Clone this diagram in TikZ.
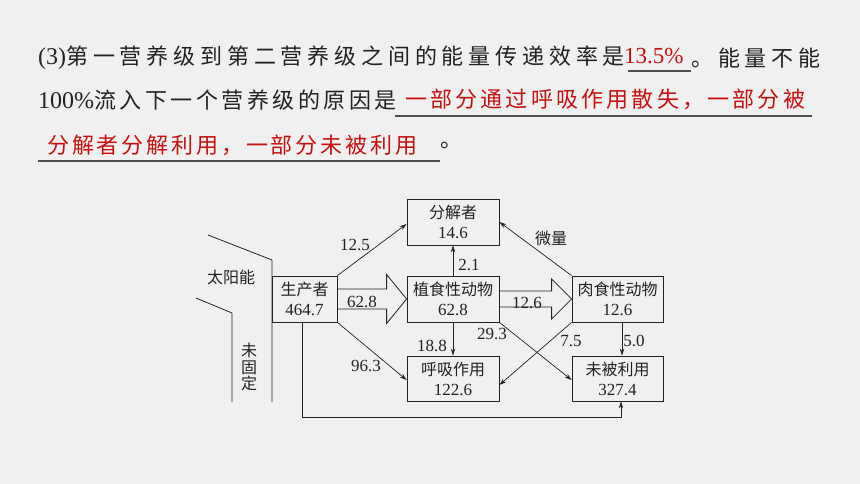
\documentclass[tikz,border=0pt]{standalone}
\usepackage{fontspec}
\setmainfont{Liberation Serif}
\newfontfamily\cjk{Noto Sans CJK SC}
\newfontfamily\cjkA[LetterSpace=22]{Noto Sans CJK SC}
\newfontfamily\cjkB[LetterSpace=13]{Noto Sans CJK SC}
\newfontfamily\cjkC[LetterSpace=14.5]{Noto Sans CJK SC}
\newfontfamily\cjkD[LetterSpace=16]{Noto Sans CJK SC}
\usetikzlibrary{arrows.meta,calc}
\definecolor{bg}{HTML}{F0F0F0}
\definecolor{ink}{HTML}{222222}
\definecolor{ans}{RGB}{200,16,16}
\newcommand\bx[2]{{\fontsize{16}{20}\selectfont\cjk #1}\\#2}
\tikzset{
  box/.style={draw=ink, line width=0.8pt, minimum width=92pt, minimum height=46pt,
    inner sep=0pt, align=center, font=\fontsize{17}{20}\selectfont, text=ink},
  arr/.style={draw=ink, line width=0.7pt, -{Stealth[length=7pt,width=4.5pt]}},
  plain/.style={draw=ink, line width=0.8pt},
  hollow/.style={draw=ink, line width=0.8pt, line join=miter},
  lab/.style={font=\fontsize{17}{17}\selectfont, inner sep=0pt, text=ink},
  clab/.style={font=\fontsize{16}{16.5}\selectfont\cjk, inner sep=0pt, text=ink, align=center},
  uline/.style={draw=ink!80, line width=1.1pt},
  txt/.style={anchor=west, inner sep=0pt, text=ink},
  anstxt/.style={anchor=west, inner sep=0pt, text=ans}
}
\begin{document}
\begin{tikzpicture}[x=1pt,y=-1pt]
\fill[bg] (0,0) rectangle (860,484);
\useasboundingbox (0,0) rectangle (860,484);

% ---- question text ----
\node[txt] (t1) at (38,58) {{\fontsize{24}{24}\selectfont (3)}{\fontsize{22}{22}\cjkA 第一营养级到第二营养级之间的能量传递效率是}};
\node[anstxt, font=\fontsize{23}{23}\selectfont] (a1) at (624,56) {13.5\%};
\draw[uline] (628,71) -- (691,71);
\node[txt] (t1b) at (691,58) {\fontsize{22}{22}\cjkA 。能量不能};

\node[txt] (t2) at (38,100) {{\fontsize{24}{24}\selectfont 100\%}{\fontsize{22}{22}\cjkD 流入下一个营养级的原因是}};
\node[anstxt] (a2) at (405,99) {\fontsize{22}{22}\cjkC 一部分通过呼吸作用散失，一部分被};
\draw[uline] (395,116) -- (812,116);

\node[anstxt] (a3) at (47,145) {\fontsize{22}{22}\cjkB 分解者分解利用，一部分未被利用};
\draw[uline] (38,161) -- (440,161);
\node[txt] (t3) at (440,145) {\fontsize{22}{22}\cjk 。};

% ---- diagram boxes ----
\node[box] (fj) at (453,222) {\bx{分解者}{14.6}};
\node[box, minimum width=65pt] (sc) at (304.5,299) {\bx{生产者}{464.7}};
\node[box] (zs) at (453,299) {\bx{植食性动物}{62.8}};
\node[box, minimum height=45pt] (hx) at (453,378.5) {\bx{呼吸作用}{122.6}};
\node[box, minimum width=91pt] (rs) at (617.5,299) {\bx{肉食性动物}{12.6}};
\node[box, minimum width=91pt, minimum height=45pt] (wb) at (617.5,378.5) {\bx{未被利用}{327.4}};

% ---- sun lines ----
\draw[plain] (208,235) -- (272,260) -- (272,402);
\draw[plain] (196,298) -- (232,313) -- (232,402);
\node[clab] (sun) at (231,277) {太阳能};
\node[clab] (unfix) at (249,367) {未\\固\\定};

% ---- hollow arrows ----
\draw[hollow] ($(sc.east)+(0,-10)$) -- ($(zs.west)+(-20,-10)$) -- ($(zs.west)+(-20,-24.5)$)
  -- (zs.west) -- ($(zs.west)+(-20,24.5)$) -- ($(zs.west)+(-20,10)$) -- ($(sc.east)+(0,10)$);
\draw[hollow] ($(zs.east)+(0,-8)$) -- ($(rs.west)+(-20,-8)$) -- ($(rs.west)+(-20,-20)$)
  -- (rs.west) -- ($(rs.west)+(-20,20)$) -- ($(rs.west)+(-20,8)$) -- ($(zs.east)+(0,8)$);

% ---- arrows ----
\draw[arr] (sc.north east) -- ($(fj.west)+(0,2)$);
\draw[arr] (sc.south east) -- ($(hx.west)+(0,1.5)$);
\draw[arr] (zs.north) -- (fj.south);
\draw[arr] (zs.south) -- (hx.north);
\draw[arr] (zs.south east) -- ($(wb.west)+(0,1.5)$);
\draw[arr] (rs.south west) -- ($(hx.east)+(0,6.5)$);
\draw[arr] ($(rs.south)+(4.5,0)$) -- ($(wb.north)+(4.5,0)$);
\draw[arr] (rs.north west) -- (fj.east);
\draw[arr] ($(sc.south)+(-2.5,0)$) -- ++(0,95) -| ($(wb.south)+(3.5,0)$);

% ---- labels ----
\node[lab] (l1) at (355,245) {12.5};
\node[lab] (l2) at (362,302) {62.8};
\node[lab] (l3) at (366,366) {96.3};
\node[lab] (l4) at (469,265) {2.1};
\node[lab] (l5) at (432,346) {18.8};
\node[lab] (l6) at (527,303) {12.6};
\node[lab] (l7) at (492,334) {29.3};
\node[lab] (l8) at (571,341) {7.5};
\node[lab] (l9) at (634,341) {5.0};
\node[clab] (l10) at (551,238) {微量};
\end{tikzpicture}
\end{document}
